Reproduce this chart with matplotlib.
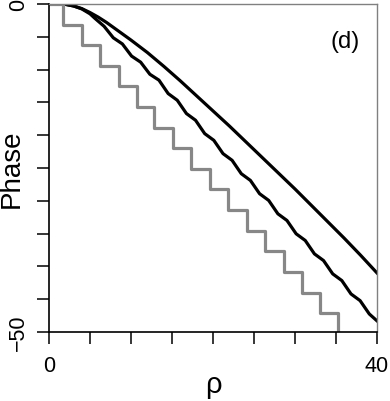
import numpy as np
import matplotlib
matplotlib.use("Agg")
import matplotlib.pyplot as plt

plt.rcParams['font.family'] = ['Liberation Sans', 'DejaVu Sans']

# smooth upper curve
rho_smooth = [0, 1, 2, 3, 4, 5, 6, 7, 8, 9, 10, 12, 14, 16, 18, 20, 22, 24, 26,
              28, 30, 32, 34, 36, 38, 40]
phase_smooth = [0, 0, -0.05, -0.3, -0.7, -1.3, -2.0, -2.8, -3.7, -4.6, -5.5,
                -7.4, -9.5, -11.7, -14.0, -16.3, -18.6, -21.0, -23.4, -25.8,
                -28.2, -30.7, -33.2, -35.7, -38.3, -41.0]

# wavy middle curve
rho_wavy = [0, 1, 2, 3, 4, 5, 5.61, 6.72, 7.84, 8.95, 10.07, 11.18, 12.30,
            13.41, 14.53, 15.64, 16.76, 17.87, 18.99, 20.10, 21.22, 22.33,
            23.45, 24.56, 25.68, 26.79, 27.91, 29.02, 30.14, 31.25, 32.37,
            33.48, 34.60, 35.71, 36.83, 37.94, 39.06, 40.0]
phase_wavy = [0, 0, -0.05, -0.3, -0.75, -1.5, -2.2, -3.4, -5.15, -6.09, -7.94,
              -8.87, -10.71, -11.61, -13.65, -14.67, -16.70, -17.72, -19.76,
              -20.78, -22.81, -23.83, -25.87, -26.89, -28.92, -29.94, -31.98,
              -33.00, -35.03, -36.05, -38.09, -39.11, -41.14, -42.16, -44.20,
              -45.22, -47.25, -48.3]

# staircase (grey): jump positions and levels
rho_steps = [0, 1.7, 4.0, 6.2, 8.5, 10.7, 12.8, 15.1, 17.3, 19.6, 21.8, 24.1,
             26.3, 28.6, 30.8, 33.0, 35.2]
phase_steps = [0, -3.14, -6.28, -9.42, -12.57, -15.71, -18.85, -21.99, -25.13,
               -28.27, -31.42, -34.56, -37.70, -40.84, -43.98, -47.12, -50.27]

fig = plt.figure(figsize=(3.9, 4.02), dpi=100)
ax = fig.add_axes([49/390, 1-333/402, 328/390, 328/402])

ax.plot(rho_smooth, phase_smooth, color='black', lw=2.3, solid_joinstyle='round')
ax.plot(rho_wavy, phase_wavy, color='black', lw=2.3, solid_joinstyle='round')
ax.step(rho_steps + [40], phase_steps + [phase_steps[-1]], where='post',
        color='#878787', lw=2.3, clip_on=True)

ax.set_xlim(0, 40)
ax.set_ylim(-50, 0)

ax.set_xticks(np.arange(0, 41, 5))
ax.set_xticklabels(['0', '', '', '', '', '', '', '', '40'])
ax.set_yticks(np.arange(-50, 1, 5))
ax.set_yticklabels(['\u221250'] + [''] * 9 + ['0'], rotation=90, va='center')

ax.tick_params(axis='both', direction='out', length=8.6, width=1.1,
               labelsize=15.5, color='black')
ax.tick_params(axis='x', pad=8)
ax.tick_params(axis='y', pad=6)

for s in ['left', 'bottom']:
    ax.spines[s].set_color('black')
    ax.spines[s].set_linewidth(1.2)
for s in ['top', 'right']:
    ax.spines[s].set_color('#808080')
    ax.spines[s].set_linewidth(1.0)

ax.text(0.5, -0.159, '\u03c1', transform=ax.transAxes, ha='center',
        va='center', fontsize=21)
ax.text(-0.113, 0.5, 'Phase', transform=ax.transAxes, ha='center',
        va='center', rotation=90, fontsize=20)
ax.text(36.1, -5.6, '(d)', ha='center', va='center', fontsize=17)

fig.savefig('out.png', dpi=100)
